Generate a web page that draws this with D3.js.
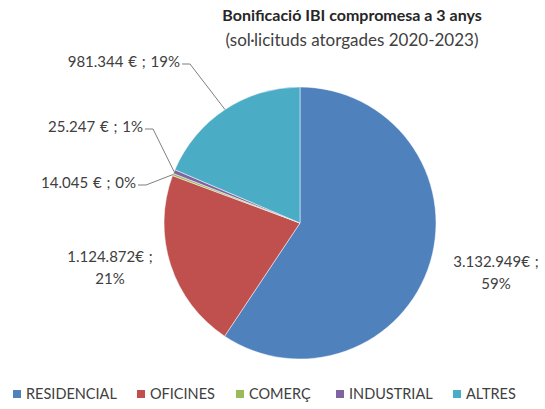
<!DOCTYPE html>
<html>
<head>
<meta charset="utf-8">
<script src="https://cdn.jsdelivr.net/npm/d3@7"></script>
<style>
  body { margin: 0; background: #fff; }
  text { font-family: Lato, "Open Sans", sans-serif; fill: #404040; }
</style>
</head>
<body>
<div id="chart"></div>
<script>
const width = 545;
const height = 409;

// Data
const categories = ['RESIDENCIAL', 'OFICINES', 'COMERÇ', 'INDUSTRIAL', 'ALTRES'];
const amounts = [3132949, 1124872, 14045, 25247, 981344];
const amountLabels = ['3.132.949€ ;', '1.124.872€ ;', '14.045 € ; 0%', '25.247 € ; 1%', '981.344 € ; 19%'];
const percentLabels = ['59%', '21%', '', '', ''];
const colors = ['#4F81BD', '#C0504D', '#9BBB59', '#8064A2', '#4BACC6'];

// label placement, relative to pie center (dx, dy, anchor, leader line)
const labelPos = [
  {dx: 196, dy: 50, anchor: 'middle', leader: false},
  {dx: -190, dy: 45, anchor: 'middle', leader: false},
  {dx: -164, dy: -40, anchor: 'end', leader: true},
  {dx: -157, dy: -96, anchor: 'end', leader: true},
  {dx: -120, dy: -161, anchor: 'end', leader: true}
];

const cx = 300, cy = 223, radius = 136;

const svg = d3.select('#chart')
  .append('svg')
    .attr('width', width)
    .attr('height', height);

// Title
svg.append('text')
  .attr('x', 352).attr('y', 21)
  .attr('text-anchor', 'middle')
  .style('font-size', '16px')
  .style('font-weight', 'bold')
  .style('fill', '#262626')
  .text('Bonificació IBI compromesa a 3 anys');
svg.append('text')
  .attr('x', 352).attr('y', 46)
  .attr('text-anchor', 'middle')
  .style('font-size', '17px')
  .text('(sol·licituds atorgades 2020-2023)');

const pie = d3.pie().sort(null).value(d => d);
const arcs = pie(amounts);
const arc = d3.arc().innerRadius(0).outerRadius(radius);
const edgeArc = d3.arc().innerRadius(radius).outerRadius(radius);

const g = svg.append('g')
  .attr('transform', 'translate(' + cx + ',' + cy + ')');

g.selectAll('path.slice')
  .data(arcs)
  .enter().append('path')
    .attr('class', 'slice')
    .attr('d', arc)
    .attr('fill', (d, i) => colors[i])
    .attr('stroke', '#fff')
    .attr('stroke-width', 0.5);

// Leader lines
arcs.forEach((d, i) => {
  const p = labelPos[i];
  if (!p.leader) return;
  const edge = edgeArc.centroid(d);
  g.append('polyline')
    .attr('points', [[p.dx + 2, p.dy + 2], [p.dx + 10, p.dy + 2], edge].map(q => q.join(',')).join(' '))
    .attr('fill', 'none')
    .attr('stroke', '#7f7f7f')
    .attr('stroke-width', 1);
});

// Labels
arcs.forEach((d, i) => {
  const p = labelPos[i];
  const t = g.append('text')
    .attr('text-anchor', p.anchor)
    .style('font-size', '15px')
    .style('word-spacing', '1px');
  if (percentLabels[i]) {
    t.append('tspan').attr('x', p.dx).attr('y', p.dy - 6).text(amountLabels[i]);
    t.append('tspan').attr('x', p.dx).attr('y', p.dy + 16).text(percentLabels[i]);
  } else {
    t.attr('x', p.dx).attr('y', p.dy + 5).text(amountLabels[i]);
  }
});

// Legend
const legendX = [13, 137, 236, 336, 453];
const legend = svg.append('g').attr('class', 'legend');
categories.forEach((c, i) => {
  legend.append('rect')
    .attr('x', legendX[i]).attr('y', 390)
    .attr('width', 8).attr('height', 8)
    .attr('fill', colors[i]);
  legend.append('text')
    .attr('x', legendX[i] + 13).attr('y', 399)
    .style('font-size', '14.5px')
    .text(c);
});
</script>
</body>
</html>
